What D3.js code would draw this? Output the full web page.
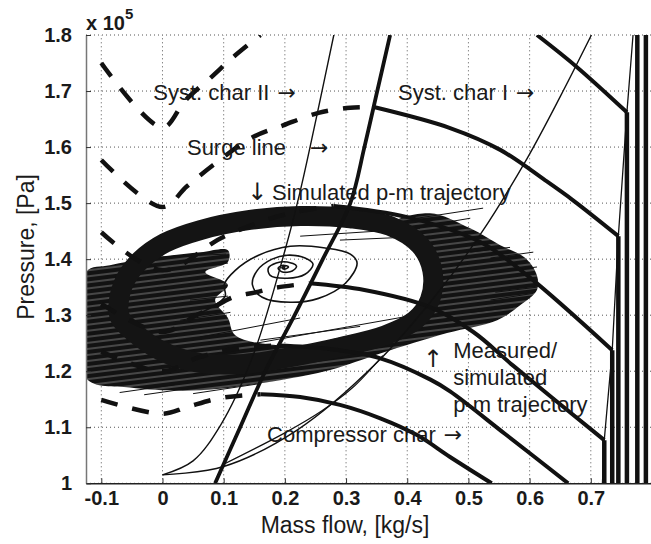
<!DOCTYPE html>
<html><head><meta charset="utf-8">
<script src="https://cdn.jsdelivr.net/npm/d3@7"></script>
<style>body{margin:0;background:#fff} svg{display:block}</style>
</head><body>
<svg id="c" width="651" height="544"></svg>
<script>
// ---------- axes ----------
const xTicks = [-0.1,0,0.1,0.2,0.3,0.4,0.5,0.6,0.7];
const xTickLabels = ["-0.1","0","0.1","0.2","0.3","0.4","0.5","0.6","0.7"];
const yTicks = [1,1.1,1.2,1.3,1.4,1.5,1.6,1.7,1.8];
const yTickLabels = ["1","1.1","1.2","1.3","1.4","1.5","1.6","1.7","1.8"];

// ---------- compressor characteristics (x = mass flow kg/s, y = pressure x1e5 Pa) ----------
const charA_unstable = [[-0.1,1.75],[0,1.635],[0.037,1.683],[0.083,1.728],[0.114,1.759],[0.16,1.8]];
const charA_stable   = [[0.612,1.8],[0.677,1.743],[0.759,1.662]];
const charB_unstable = [[-0.1,1.577],[0,1.493],[0.04,1.53],[0.083,1.568],[0.148,1.618],[0.198,1.639],[0.255,1.661],[0.307,1.67],[0.347,1.671]];
const charB_stable   = [[0.347,1.671],[0.47,1.634],[0.552,1.595],[0.625,1.541],[0.671,1.505],[0.745,1.441]];
const charC_unstable = [[-0.1,1.448],[0,1.38],[0.1,1.44],[0.2,1.48],[0.28,1.495]];
const charC_stable   = [[0.28,1.495],[0.4,1.475],[0.52,1.43],[0.596,1.371],[0.735,1.2375]];
const charD_unstable = [[-0.1,1.32],[0,1.27],[0.055,1.3],[0.08,1.312],[0.115,1.332],[0.153,1.341],[0.179,1.348],[0.24,1.357]];
const charD_stable   = [[0.24,1.357],[0.33,1.345],[0.438,1.314],[0.508,1.27],[0.573,1.21],[0.722,1.077]];
const charE_unstable = [[-0.1,1.235],[0,1.2],[0.06,1.225],[0.12,1.24],[0.19,1.246]];
const charE_stable   = [[0.19,1.246],[0.27,1.24],[0.356,1.223],[0.438,1.185],[0.47,1.164],[0.56,1.088],[0.663,1.0]];
const charF_unstable = [[-0.1,1.149],[0,1.124],[0.04,1.136],[0.094,1.152],[0.16,1.159]];
const charF_stable   = [[0.16,1.159],[0.225,1.154],[0.29,1.14],[0.356,1.116],[0.416,1.086],[0.47,1.047],[0.538,1.0]];
// choke (vertical) parts
const chokeA = [[0.759,1.662],[0.759,1.0]];
const chokeB = [[0.745,1.441],[0.745,1.0]];
const chokeC = [[0.735,1.2375],[0.735,1.0]];
const chokeD = [[0.722,1.077],[0.722,1.0]];
const chokeE = [[0.776,1.8],[0.776,1.0]];
const chokeF = [[0.79,1.8],[0.79,1.0]];
const chokeLine = [[0.769,1.8],[0.759,1.662],[0.745,1.441],[0.735,1.2375],[0.722,1.077],[0.719,1.0]];

// ---------- system characteristics ----------
const systCharII = [[0,1.015],[0.05,1.04],[0.095,1.104],[0.147,1.225],[0.2,1.415],[0.225,1.521],[0.251,1.65],[0.28,1.8]];
const systCharI  = [[0.086,1.0],[0.127,1.1],[0.168,1.2],[0.216,1.3],[0.262,1.4],[0.307,1.5],[0.33,1.6],[0.351,1.7],[0.372,1.8]];
const systCharOpen  = [[0,1.015],[0.1,1.03],[0.22,1.095],[0.35,1.215],[0.45,1.34],[0.52,1.445],[0.596,1.58],[0.65,1.69],[0.701,1.8]];
const systCharOpen2 = [[0.1,1.034],[0.2,1.09],[0.26,1.129],[0.31,1.17],[0.36,1.228]];

// ---------- trajectories ----------
const simulatedCycle = [[-0.072,1.318],[-0.061,1.3625],[-0.036,1.398],[0.004,1.429],[0.062,1.452],[0.143,1.470],[0.225,1.477],[0.307,1.473],[0.372,1.459],[0.421,1.425],[0.441,1.380],[0.437,1.327],[0.413,1.291],[0.364,1.264],[0.290,1.243],[0.209,1.225],[0.127,1.2125],[0.054,1.216],[-0.004,1.2375],[-0.045,1.268],[-0.069,1.295]];
const simulatedSpiral = [[0.058,1.302],[0.086,1.318],[0.1025,1.334],[0.101,1.355],[0.119,1.380],[0.157,1.407],[0.209,1.423],[0.266,1.420],[0.307,1.409],[0.318,1.393],[0.299,1.357],[0.255,1.330],[0.209,1.323],[0.163,1.332],[0.147,1.354],[0.155,1.380],[0.179,1.400],[0.204,1.407],[0.233,1.402],[0.246,1.391],[0.233,1.373],[0.204,1.366],[0.176,1.371],[0.173,1.384],[0.186,1.393],[0.204,1.395],[0.219,1.3875],[0.212,1.379],[0.196,1.377],[0.189,1.384],[0.197,1.389],[0.206,1.386],[0.199,1.382],[0.195,1.385],[0.2,1.387],[0.198,1.383]];
const measuredRegion = [[-0.125,1.377],[-0.086,1.389],[-0.020,1.402],[0.062,1.4125],[0.107,1.416],[0.107,1.395],[0.070,1.377],[0.107,1.354],[0.086,1.327],[0.107,1.295],[0.119,1.264],[0.192,1.246],[0.274,1.252],[0.357,1.268],[0.405,1.295],[0.431,1.336],[0.434,1.395],[0.413,1.4375],[0.380,1.466],[0.437,1.482],[0.503,1.455],[0.552,1.425],[0.593,1.402],[0.612,1.371],[0.612,1.345],[0.585,1.318],[0.547,1.291],[0.465,1.268],[0.357,1.232],[0.274,1.202],[0.192,1.184],[0.062,1.166],[-0.053,1.171],[-0.125,1.188]];
const measuredSpikes = [
 [[0.416,1.473],[0.524,1.491]],[[0.405,1.455],[0.503,1.473]],[[0.503,1.4125],[0.568,1.421]],
 [[0.536,1.402],[0.606,1.4125]],[[0.544,1.377],[0.612,1.386]],[[0.544,1.341],[0.612,1.350]],
 [[0.536,1.327],[0.606,1.339]],[[0.503,1.305],[0.573,1.314]],
 [[-0.07,1.162],[0.02,1.176]],[[-0.03,1.158],[0.06,1.172]],[[0.05,1.16],[0.16,1.178]]];
const measuredStreaks = [
 [[-0.038,1.402],[0.104,1.409]],[[-0.020,1.380],[0.107,1.393]],[[0.062,1.261],[0.225,1.295]],
 [[0.127,1.245],[0.421,1.302]],[[0.192,1.234],[0.454,1.291]],[[0.274,1.2554],[0.437,1.295]],
 [[0.160,1.2554],[0.323,1.280]],[[0.225,1.441],[0.421,1.455]],[[0.290,1.434],[0.437,1.441]],
 [[0.045,1.327],[0.107,1.334]],[[0.029,1.291],[0.111,1.305]]];

// ---------- annotations (data coordinates of text anchors) ----------
const annotations = [
 {t:"Syst. char II", arrow:"\u2192", x:-0.015, y:1.684},
 {t:"Syst. char I", arrow:"\u2192", x:0.385, y:1.684},
 {t:"Surge line", arrow:"", x:0.040, y:1.586},
 {t:"", arrow:"\u2192", x:0.241, y:1.586},
 {t:"Simulated p-m trajectory", arrow:"", x:0.179, y:1.505},
 {t:"Measured/", arrow:"", x:0.475, y:1.2232},
 {t:"simulated", arrow:"", x:0.475, y:1.175},
 {t:"p-m trajectory", arrow:"", x:0.475, y:1.127},
 {t:"Compressor char", arrow:"\u2192", x:0.171, y:1.073}
];

// ---------- drawing ----------
const svg = d3.select("#c");
const W = 651, H = 544;
const x = d3.scaleLinear().domain([-0.125, 0.8]).range([86, 652]);
const y = d3.scaleLinear().domain([1, 1.8]).range([483.3, 35]);
const FONT = "'Liberation Sans', Arial, Helvetica, sans-serif";
const ARROWFONT = "'DejaVu Sans', sans-serif";

const defs = svg.append("defs");
defs.append("clipPath").attr("id","plot").append("rect")
  .attr("x",86).attr("y",35).attr("width",W-86).attr("height",483.3-35);
const pat = defs.append("pattern").attr("id","hatch").attr("patternUnits","userSpaceOnUse")
  .attr("width",40).attr("height",6).attr("patternTransform","rotate(-7)");
pat.append("rect").attr("width",40).attr("height",6).attr("fill","#121212");
pat.append("line").attr("x1",0).attr("x2",40).attr("y1",3).attr("y2",3)
  .attr("stroke","#fff").attr("stroke-width",0.45);

// grid
const grid = svg.append("g");
xTicks.forEach(v => grid.append("line").attr("x1",x(v)).attr("x2",x(v)).attr("y1",y(1)).attr("y2",y(1.8))
  .attr("stroke","#555").attr("stroke-width",1).attr("stroke-dasharray","1,3"));
yTicks.forEach(v => grid.append("line").attr("x1",86).attr("x2",W).attr("y1",y(v)).attr("y2",y(v))
  .attr("stroke","#555").attr("stroke-width",1).attr("stroke-dasharray","1,3"));

const line = d3.line().x(d=>x(d[0])).y(d=>y(d[1]));
const smooth = d3.line().x(d=>x(d[0])).y(d=>y(d[1])).curve(d3.curveCatmullRom.alpha(0.5));
const closedSmooth = d3.line().x(d=>x(d[0])).y(d=>y(d[1])).curve(d3.curveCatmullRomClosed.alpha(0.5));

const P = svg.append("g").attr("clip-path","url(#plot)");

// measured trajectory (hatched region + spikes + streaks)
P.append("path").attr("d", closedSmooth(measuredRegion)).attr("fill","url(#hatch)");
measuredSpikes.concat(measuredStreaks).forEach(s => P.append("path").attr("d", line(s))
  .attr("fill","none").attr("stroke","#111").attr("stroke-width",1));

// simulated limit cycle (thick band)
P.append("path").attr("d", closedSmooth(simulatedCycle)).attr("fill","none")
  .attr("stroke","#141414").attr("stroke-width",20);
P.append("path").attr("d", smooth(simulatedSpiral)).attr("fill","none")
  .attr("stroke","#111").attr("stroke-width",1.6);

// compressor characteristics
[charA_unstable,charB_unstable,charC_unstable,charD_unstable,charE_unstable,charF_unstable].forEach(d =>
  P.append("path").attr("d", smooth(d)).attr("fill","none").attr("stroke","#111")
   .attr("stroke-width",4.5).attr("stroke-dasharray","17,15"));
[charA_stable,charB_stable,charC_stable,charD_stable,charE_stable,charF_stable].forEach(d =>
  P.append("path").attr("d", smooth(d)).attr("fill","none").attr("stroke","#111").attr("stroke-width",4));
[chokeA,chokeB,chokeC,chokeD,chokeE,chokeF].forEach(d =>
  P.append("path").attr("d", line(d)).attr("fill","none").attr("stroke","#111").attr("stroke-width",4.5));
P.append("path").attr("d", line(chokeLine)).attr("fill","none").attr("stroke","#111").attr("stroke-width",1.3);

// system characteristics
P.append("path").attr("d", smooth(systCharII)).attr("fill","none").attr("stroke","#111").attr("stroke-width",1.4);
P.append("path").attr("d", smooth(systCharI)).attr("fill","none").attr("stroke","#111").attr("stroke-width",3.8);
P.append("path").attr("d", smooth(systCharOpen)).attr("fill","none").attr("stroke","#111").attr("stroke-width",1.4);
P.append("path").attr("d", smooth(systCharOpen2)).attr("fill","none").attr("stroke","#111").attr("stroke-width",1.2);

// axes
const xAxis = svg.append("g").attr("transform",`translate(0,${y(1)})`)
  .call(d3.axisBottom(x).tickValues(xTicks).tickFormat((d,i)=>xTickLabels[i]).tickSizeInner(-5).tickSizeOuter(0).tickPadding(8));
const yAxis = svg.append("g").attr("transform","translate(86,0)")
  .call(d3.axisLeft(y).tickValues(yTicks).tickFormat((d,i)=>yTickLabels[i]).tickSizeInner(-5).tickSizeOuter(0).tickPadding(14));
[xAxis,yAxis].forEach(a => {
  a.selectAll("text").attr("font-family",FONT).attr("font-size",20).attr("font-weight","bold").attr("fill","#1a1a1a");
  a.selectAll(".tick line").attr("stroke","#333");
});
xAxis.select(".domain").attr("stroke","#222").attr("stroke-width",1.5);
yAxis.select(".domain").attr("stroke","#777").attr("stroke-width",1.5);

// multiplier
const mult = svg.append("text").attr("x",86).attr("y",30).attr("font-family",FONT)
  .attr("font-weight","bold").attr("font-size",20).attr("fill","#1a1a1a");
mult.append("tspan").text("x 10");
mult.append("tspan").attr("font-size",15).attr("dy",-11).text("5");

// axis titles
svg.append("text").attr("x",345).attr("y",533).attr("text-anchor","middle")
  .attr("font-family",FONT).attr("font-size",23).attr("fill","#1a1a1a").text("Mass flow, [kg/s]");
svg.append("text").attr("transform","translate(34,247) rotate(-90)").attr("text-anchor","middle")
  .attr("font-family",FONT).attr("font-size",23).attr("fill","#1a1a1a").text("Pressure, [Pa]");

// annotations
annotations.forEach(a => {
  const t = svg.append("text").attr("x",x(a.x)).attr("y",y(a.y))
    .attr("font-family",FONT).attr("font-size",22).attr("fill","#1a1a1a");
  if (a.t) t.append("tspan").text(a.t);
  if (a.arrow) t.append("tspan").attr("font-family",ARROWFONT).attr("font-size",22)
    .attr("dx", a.t ? 8 : 0).text(a.arrow);
});
// vertical arrows
svg.append("text").attr("x",x(0.155)).attr("y",y(1.506)).attr("text-anchor","middle")
  .attr("font-family",ARROWFONT).attr("font-size",24).attr("fill","#1a1a1a").text("\u2193");
svg.append("text").attr("x",x(0.442)).attr("y",y(1.207)).attr("text-anchor","middle")
  .attr("font-family",ARROWFONT).attr("font-size",24).attr("fill","#1a1a1a").text("\u2191");
</script>
</body></html>
